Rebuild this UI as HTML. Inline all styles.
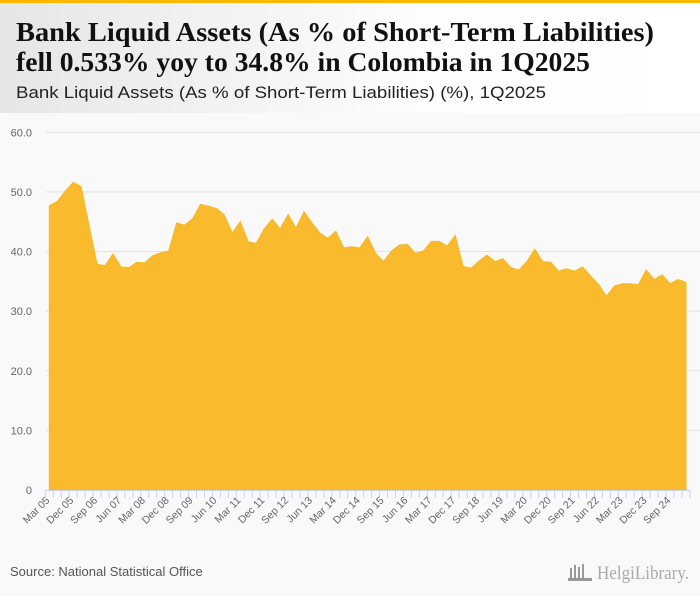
<!DOCTYPE html>
<html><head><meta charset="utf-8"><style>
html,body{margin:0;padding:0;background:#f9f9f9;}
svg{display:block;}
</style></head><body>
<svg width="700" height="596" viewBox="0 0 700 596" xmlns="http://www.w3.org/2000/svg">
<defs><linearGradient id="hg" x1="0" x2="1" y1="0" y2="0"><stop offset="0" stop-color="#e6e6e6"/><stop offset="0.6" stop-color="#fdfdfd"/><stop offset="1" stop-color="#ffffff"/></linearGradient></defs>
<rect x="0" y="0" width="700" height="596" fill="#f9f9f9"/>
<rect x="0" y="0" width="700" height="113" fill="url(#hg)"/>
<rect x="0" y="0" width="700" height="3" fill="#f6b900"/>
<text x="16" y="41" font-family="Liberation Serif, serif" font-weight="bold" font-size="27" fill="#111" textLength="638" lengthAdjust="spacingAndGlyphs">Bank Liquid Assets (As % of Short-Term Liabilities)</text>
<text x="16" y="71" font-family="Liberation Serif, serif" font-weight="bold" font-size="27" fill="#111" textLength="574" lengthAdjust="spacingAndGlyphs">fell 0.533% yoy to 34.8% in Colombia in 1Q2025</text>
<text x="16" y="98" font-family="Liberation Sans, sans-serif" font-size="17" fill="#222" textLength="530" lengthAdjust="spacingAndGlyphs">Bank Liquid Assets (As % of Short-Term Liabilities) (%), 1Q2025</text>
<g id="grid"></g>
<g id="area"></g>
<g id="xaxis"></g>
<text x="10" y="576" font-family="Liberation Sans, sans-serif" font-size="13" fill="#555">Source: National Statistical Office</text>
<g fill="#999">
<rect x="570" y="568" width="2" height="12"/><rect x="574" y="565" width="2" height="15"/><rect x="578" y="567" width="2" height="13"/><rect x="582" y="564" width="2" height="16"/><rect x="568" y="578" width="24" height="3"/>
<text x="597" y="579" font-family="Liberation Serif, serif" font-size="19" fill="#aaa" textLength="92" lengthAdjust="spacingAndGlyphs">HelgiLibrary.</text>
</g>
</svg>
<script>
const labels=["Mar 05","Dec 05","Sep 06","Jun 07","Mar 08","Dec 08","Sep 09","Jun 10","Mar 11","Dec 11","Sep 12","Jun 13","Mar 14","Dec 14","Sep 15","Jun 16","Mar 17","Dec 17","Sep 18","Jun 19","Mar 20","Dec 20","Sep 21","Jun 22","Mar 23","Dec 23","Sep 24"];
const values=[47.7,48.4,50.1,51.6,50.9,44.3,37.9,37.6,39.6,37.4,37.3,38.2,38.1,39.3,39.8,40.1,44.8,44.4,45.5,47.9,47.6,47.2,46.1,43.1,45.0,41.6,41.4,43.8,45.4,43.8,46.2,43.9,46.7,44.8,43.1,42.2,43.4,40.6,40.8,40.6,42.5,39.7,38.3,40.1,41.1,41.2,39.7,40.1,41.7,41.7,40.9,42.7,37.5,37.2,38.4,39.4,38.3,38.8,37.3,36.9,38.3,40.4,38.3,38.2,36.7,37.1,36.7,37.4,35.9,34.5,32.5,34.2,34.6,34.6,34.4,36.9,35.3,36.1,34.6,35.3,34.8];
const yTicks=[0,10,20,30,40,50,60];
const NS="http://www.w3.org/2000/svg";
const x0=49.3,x1=686,y0=490,yTop=132.3;
const xs=i=>x0+(x1-x0)*i/(values.length-1);
const ys=v=>y0-(y0-yTop)*v/60;
function mk(t,a){const e=document.createElementNS(NS,t);for(const k in a)e.setAttribute(k,a[k]);return e;}
const grid=document.getElementById('grid');
yTicks.forEach(v=>{
  if(v>0){const l=mk('line',{x1:46,x2:700,y1:ys(v),y2:ys(v),stroke:'#e2e2e2','stroke-width':1});
  
  
  grid.appendChild(l);}
  const t=mk('text',{x:32,y:ys(v)+4,'text-anchor':'end','font-family':'Liberation Sans, sans-serif','font-size':11,fill:'#666'});
  t.textContent=v===0?'0':v.toFixed(1);
  
  
  grid.appendChild(t);
});
let d='M'+xs(0)+','+y0;
values.forEach((v,i)=>{d+=' L'+xs(i).toFixed(2)+','+ys(v).toFixed(2);});
d+=' L'+xs(values.length-1)+','+y0+' Z';
const p=mk('path',{d:d,fill:'#f9bb2d',stroke:'#f7b924','stroke-width':1});


document.getElementById('area').appendChild(p);
const xa=document.getElementById('xaxis');
const ax=mk('line',{x1:45,x2:690,y1:490.5,y2:490.5,stroke:'#c8d4e6'});


xa.appendChild(ax);
for(let i=0;i<=values.length;i++){
  const xx=xs(i)-4;
  const tk=mk('line',{x1:xx,x2:xx,y1:490,y2:498,stroke:'#c8d4e6'});
  
  
  xa.appendChild(tk);
}
labels.forEach((s,k)=>{
  const xx=xs(k*3)+1,yy=501;
  const t=mk('text',{x:xx,y:yy,'text-anchor':'end','font-family':'Liberation Sans, sans-serif','font-size':10.5,fill:'#666',transform:'rotate(-45 '+xx+' '+yy+')'});
  t.textContent=s;
  
  
  xa.appendChild(t);
});
</script>
</body></html>
